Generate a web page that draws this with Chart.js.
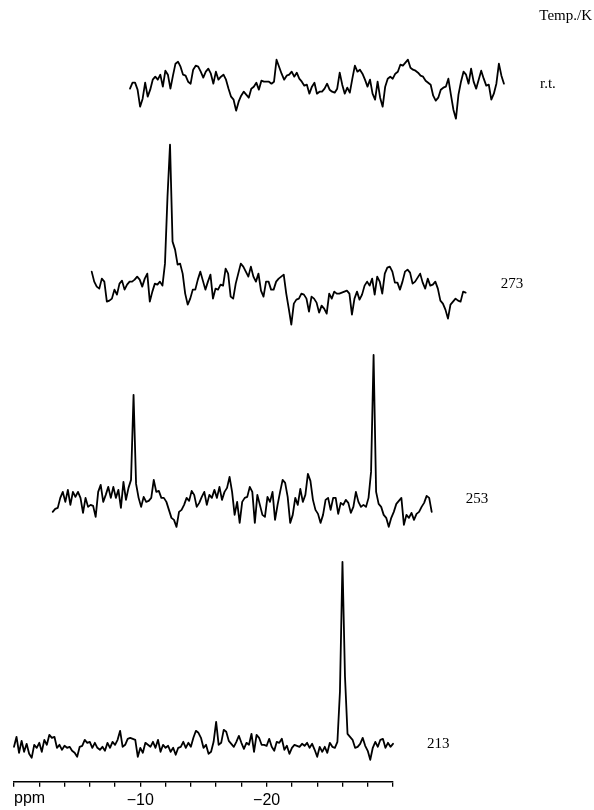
<!DOCTYPE html>
<html>
<head>
<meta charset="utf-8">
<script src="https://cdn.jsdelivr.net/npm/chart.js@4/dist/chart.umd.min.js"></script>
<style>
  html, body { margin: 0; padding: 0; background: #fff; }
</style>
</head>
<body>
<canvas id="nmr" width="594" height="810"></canvas>
<script>
// Espectros empilhados, um por temperatura (de cima para baixo)
const TEMPS = ['r.t.', '273', '253', '213'];
const PPM_STEP = 0.2;           // passo entre pontos lidos (ppm)
const AXIS_LABELS = [-10, -20]; // unicos ticks com texto

// intensidades (unidade arbitraria), ponto k em -k*PPM_STEP ppm
const TRACE_RT = [
  -2, 4, 4, -3, -20, -12, 4, -10, -3, 7, 10, 7, 12, 0, 16, 12, -2, 11, 23, 25,
  20, 12, 11, 5, 3, 17, 21, 20, 15, 9, 15, 18, 13, 3, 15, 7, 10, 12, 7, -2,
  -10, -13, -24, -15, -9, -5, -8, -11, -2, 0, 4, -3, 6, 5, 5, 5, 3, 5, 27, 20,
  13, 7, 11, 12, 15, 10, 14, 8, 5, 1, 2, -7, 0, 4, -7, -5, -5, -2, 3, -3,
  -5, -6, -2, 14, 2, -7, -1, -6, 8, 21, 15, 17, 13, 7, 0, 7, -7, -13, 5, -11,
  -20, 0, 8, 10, 8, 13, 15, 22, 21, 24, 27, 19, 17, 16, 14, 11, 10, 6, 4, 2,
  -9, -14, -11, -3, -1, 0, 8, -8, -23, -32, -8, 5, 15, 12, 3, 18, 5, -2, 7, 16,
  8, 1, 2, -13, -7, 3, 23, 11, 3
];
const TRACE_273 = [
  15, 5, 0, -2, 8, 5, -15, -14, -12, -3, -8, 3, 6, -3, 2, 5, 5, 7, 10, 7,
  0, 8, 13, -15, -5, 3, 2, 5, 1, 23, 90, 142, 45, 37, 22, 23, 13, -7, -18, -12,
  -3, -3, 7, 15, 6, -3, 5, 12, -12, -2, -3, 2, 1, 18, 13, -10, -12, 3, 13, 23,
  20, 15, 10, 20, 10, 5, 13, -4, -10, 5, 5, -3, -3, 5, 8, 10, 12, -7, -22, -38,
  -17, -13, -12, -7, -8, -12, -25, -10, -12, -16, -26, -19, -22, -27, -7, -12, -5, -7, -7, -6,
  -5, -4, -7, -28, -12, -5, -13, -8, 1, 5, 1, 8, -8, 10, 5, -7, 13, 19, 20, 15,
  4, 4, -3, 5, 15, 17, 14, 3, 5, 9, 13, 4, -2, 8, 1, 2, 5, -2, -14, -17,
  -23, -32, -18, -15, -12, -14, -15, -5, -6
];
const TRACE_253 = [
  -10, -7, -6, 4, 10, 0, 12, -3, 10, 5, 10, 4, -11, 4, -5, -3, -4, -15, 10, 17,
  0, 7, 15, 4, 15, 4, 12, -6, 20, 2, 14, 22, 107, 18, 4, -5, 5, 0, 1, 4,
  22, 10, 11, 4, 4, 0, -8, -16, -18, -25, -10, -8, -3, 4, 1, 11, 7, -5, -1, 5,
  10, -3, 7, 4, 12, 4, 15, 2, 10, 14, 25, 10, -13, 0, -21, 0, 4, 5, 15, 10,
  -21, 7, -3, -13, -15, 5, 0, 10, -18, -3, 10, 22, 19, 5, -21, -13, 4, -3, 13, 0,
  7, 28, 21, 2, -8, -12, -21, -13, 2, 4, -8, 4, 4, -12, -1, -3, 2, -1, -11, -5,
  10, 0, -5, -3, -5, 4, 30, 147, 10, -2, -5, -13, -16, -25, -16, -10, -2, 1, 4, -23,
  -13, -16, -11, -18, -12, -10, -5, -1, 6, 4, -10
];
const TRACE_213 = [
  0, 10, -6, 6, -5, 3, -7, -11, 2, -1, 4, -5, 7, 2, 12, 9, 10, -1, 2, -3,
  1, -1, 0, -4, -6, -10, 0, 1, 7, 4, 5, -1, 4, -1, -3, 0, -4, 4, -1, 5,
  2, 7, 16, 0, 2, 8, 9, 8, 7, -10, -1, -6, 4, 2, 0, 5, -1, 7, -5, 2,
  -1, 1, -5, -1, -8, -1, 0, 5, -1, 4, 0, 9, 16, 14, 9, -1, 2, -7, -5, 5,
  25, 2, 4, 17, 15, 6, 3, 0, 5, 11, 4, -2, 4, 2, 13, -5, 12, 9, 2, 2,
  1, 8, 0, -4, 5, 4, 8, -3, 1, -7, -1, 2, 1, 0, 3, 1, 4, -1, 3, -3,
  -10, 0, -5, 0, -6, 4, 0, -1, 5, 55, 185, 70, 13, 10, 7, -1, 0, 3, 9, 1,
  -4, -13, -1, 5, 0, 7, 8, -1, 4, 0, 3
];
const TRACES = [TRACE_RT, TRACE_273, TRACE_253, TRACE_213];

// Layout em pixels (fora dos dados)
const PPM_MIN = -30, PPM_MAX = 0;
const AREA_LEFT = 14, AREA_RIGHT = 393, AREA_TOP = 0, AREA_BOTTOM = 782;
const PX_PER_PPM = (AREA_RIGHT - AREA_LEFT) / (PPM_MAX - PPM_MIN);
const BASELINE_Y = [86.7, 286.7, 502, 747];   // linha de base de cada espectro
const SHIFT_X = [116, 77.7, 38.7, 0];         // deslocamento em perspectiva
const LABEL_GAP = [31, 30, 34, 34];           // distancia do fim do espectro ao rotulo

const xId = i => (SHIFT_X[i] === 0 ? 'x' : 'x' + i);

// Escalas: 'x' visivel para o espectro de baixo, as outras deslocadas e ocultas
const scales = {
  x: {
    type: 'linear',
    position: 'bottom',
    reverse: true,
    min: PPM_MIN,
    max: PPM_MAX,
    border: { display: true, color: '#000', width: 1.5 },
    grid: {
      display: true,
      drawOnChartArea: false,
      drawTicks: true,
      tickLength: 5,
      color: '#000',
      lineWidth: 1.3
    },
    ticks: {
      stepSize: 2,
      autoSkip: false,
      maxRotation: 0,
      padding: 4,
      color: '#000',
      font: { family: '"Liberation Sans", Arial, sans-serif', size: 16 },
      callback: v => {
        const r = Math.round(v);
        return AXIS_LABELS.includes(r) ? '\u2212' + Math.abs(r) : '';
      }
    }
  }
};

TEMPS.forEach((t, i) => {
  const d = SHIFT_X[i] / PX_PER_PPM;
  if (SHIFT_X[i] !== 0) {
    scales[xId(i)] = {
      type: 'linear', display: false, reverse: true,
      min: PPM_MIN + d, max: PPM_MAX + d
    };
  }
  scales['y' + i] = {
    type: 'linear', display: false,
    min: BASELINE_Y[i] - AREA_BOTTOM,
    max: BASELINE_Y[i] - AREA_TOP
  };
});

const datasets = TRACES.map((vals, i) => ({
  label: TEMPS[i],
  data: vals.map((v, k) => ({ x: -k * PPM_STEP, y: v })),
  xAxisID: xId(i),
  yAxisID: 'y' + i,
  borderColor: '#000',
  borderWidth: 1.8,
  borderJoinStyle: 'round',
  borderCapStyle: 'round',
  pointRadius: 0,
  tension: 0,
  fill: false,
  clip: false
}));

// Textos: temperaturas ao lado de cada espectro, unidade e titulo
const labelPlugin = {
  id: 'tempLabels',
  afterDraw(chart) {
    const ctx = chart.ctx;
    ctx.save();
    ctx.fillStyle = '#000';
    ctx.textBaseline = 'alphabetic';
    ctx.font = '15px "Liberation Serif", "Times New Roman", serif';
    ctx.textAlign = 'right';
    ctx.fillText('Temp./K', 592, 20);
    ctx.textAlign = 'left';
    TEMPS.forEach((t, i) => {
      const xs = chart.scales[xId(i)];
      const ys = chart.scales['y' + i];
      ctx.fillText(t, xs.getPixelForValue(PPM_MIN) + LABEL_GAP[i], ys.getPixelForValue(0) + 1);
    });
    const xa = chart.scales.x;
    ctx.font = '16px "Liberation Sans", Arial, sans-serif';
    ctx.fillText('ppm', xa.getPixelForValue(PPM_MAX), xa.top + 21);
    ctx.restore();
  }
};

new Chart(document.getElementById('nmr').getContext('2d'), {
  type: 'line',
  data: { datasets: datasets },
  options: {
    responsive: false,
    animation: false,
    layout: {
      padding: { left: AREA_LEFT, right: 594 - AREA_RIGHT, top: AREA_TOP, bottom: -4 }
    },
    plugins: {
      legend: { display: false },
      title: { display: false },
      tooltip: { enabled: false }
    },
    scales: scales
  },
  plugins: [labelPlugin]
});
</script>
</body>
</html>
